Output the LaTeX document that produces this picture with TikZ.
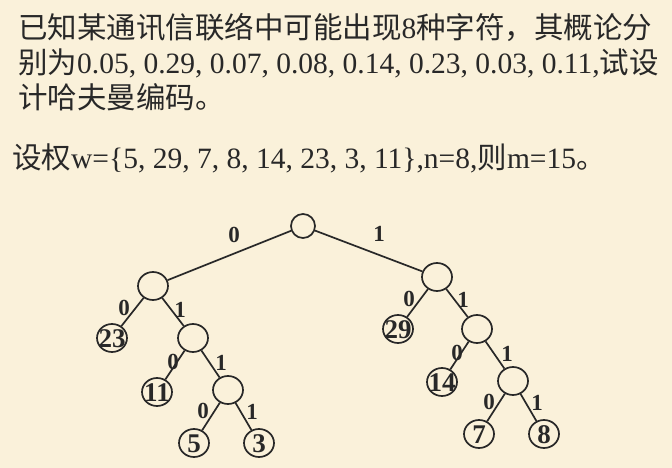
\documentclass[tikz,border=0pt]{standalone}
\usepackage{fontspec}
\setmainfont{Liberation Serif}[BoldFont={Liberation Serif Bold}]
\newfontfamily\cjk{Noto Sans CJK SC}
\newfontfamily\bnum{Liberation Serif Bold}
\usetikzlibrary{shapes.geometric}
\definecolor{bg}{RGB}{250,241,218}
\definecolor{ink}{RGB}{40,40,40}
\tikzset{
  txt/.style={anchor=base west,inner sep=0pt,text=ink,font=\fontsize{29.5}{35}\selectfont},
  inner/.style={draw=ink,line width=1.7pt,ellipse,inner sep=0pt,minimum width=30pt,minimum height=28pt},
  leaf/.style={draw=ink,line width=1.7pt,ellipse,inner sep=0pt,minimum width=30pt,minimum height=28pt,font=\bnum\fontsize{27}{27}\selectfont,text=ink},
  bit/.style={inner sep=0pt,text=ink,font=\bnum\fontsize{23}{23}\selectfont},
  edge/.style={draw=ink,line width=1.7pt}
}
\newcommand{\lf}[1]{\makebox[0pt]{\raisebox{-0.34em}[0pt][0pt]{#1}}}
\begin{document}
\begin{tikzpicture}[x=1pt,y=-1pt]
\fill[bg] (0,0) rectangle (672,468);
\useasboundingbox (0,0) rectangle (672,468);
\node[txt] (l1) at (18,39) {{\cjk 已知某通讯信联络中可能出现}8{\cjk 种字符，其概论分}};
\node[txt] (l2) at (18,74) {{\cjk 别为}0.05, 0.29, 0.07, 0.08, 0.14, 0.23, 0.03, 0.11,{\cjk 试设}};
\node[txt] (l3) at (18,109) {{\cjk 计哈夫曼编码。}};
\node[txt] (l4) at (12,168) {{\cjk 设权}w=\{5, 29, 7, 8, 14, 23, 3, 11\},n=8,{\cjk 则}m=15{\cjk 。}};
% tree nodes
\node[inner,minimum width=24pt,minimum height=24pt] (root) at (303,226) {};
\node[inner] (a) at (153,286) {};
\node[leaf] (n23) at (112,338) {\lf{23}};
\node[inner] (b) at (193,338) {};
\node[leaf] (n11) at (157,392) {\lf{11}};
\node[inner] (c) at (228,390) {};
\node[leaf] (n5) at (194,443) {\lf{5}};
\node[leaf] (n3) at (259,443) {\lf{3}};
\node[inner] (d) at (437,277) {};
\node[leaf] (n29) at (398,329) {\lf{29}};
\node[inner] (e) at (477,329) {};
\node[leaf] (n14) at (442,382) {\lf{14}};
\node[inner] (f) at (513,381) {};
\node[leaf] (n7) at (479,434) {\lf{7}};
\node[leaf] (n8) at (544,434) {\lf{8}};
% edges
\draw[edge] (root) -- (a);
\draw[edge] (root) -- (d);
\draw[edge] (a) -- (n23);
\draw[edge] (a) -- (b);
\draw[edge] (b) -- (n11);
\draw[edge] (b) -- (c);
\draw[edge] (c) -- (n5);
\draw[edge] (c) -- (n3);
\draw[edge] (d) -- (n29);
\draw[edge] (d) -- (e);
\draw[edge] (e) -- (n14);
\draw[edge] (e) -- (f);
\draw[edge] (f) -- (n7);
\draw[edge] (f) -- (n8);
% bit labels
\node[bit] (b1) at (234,235) {0};
\node[bit] (b2) at (379,234) {1};
\node[bit] (b3) at (124,308) {0};
\node[bit] (b4) at (180,310) {1};
\node[bit] (b5) at (173,362) {0};
\node[bit] (b6) at (221,363) {1};
\node[bit] (b7) at (203,411) {0};
\node[bit] (b8) at (252,412) {1};
\node[bit] (b9) at (409,299) {0};
\node[bit] (b10) at (463,300) {1};
\node[bit] (b11) at (457,353) {0};
\node[bit] (b12) at (507,354) {1};
\node[bit] (b13) at (489,402) {0};
\node[bit] (b14) at (537,403) {1};
\end{tikzpicture}
\end{document}
